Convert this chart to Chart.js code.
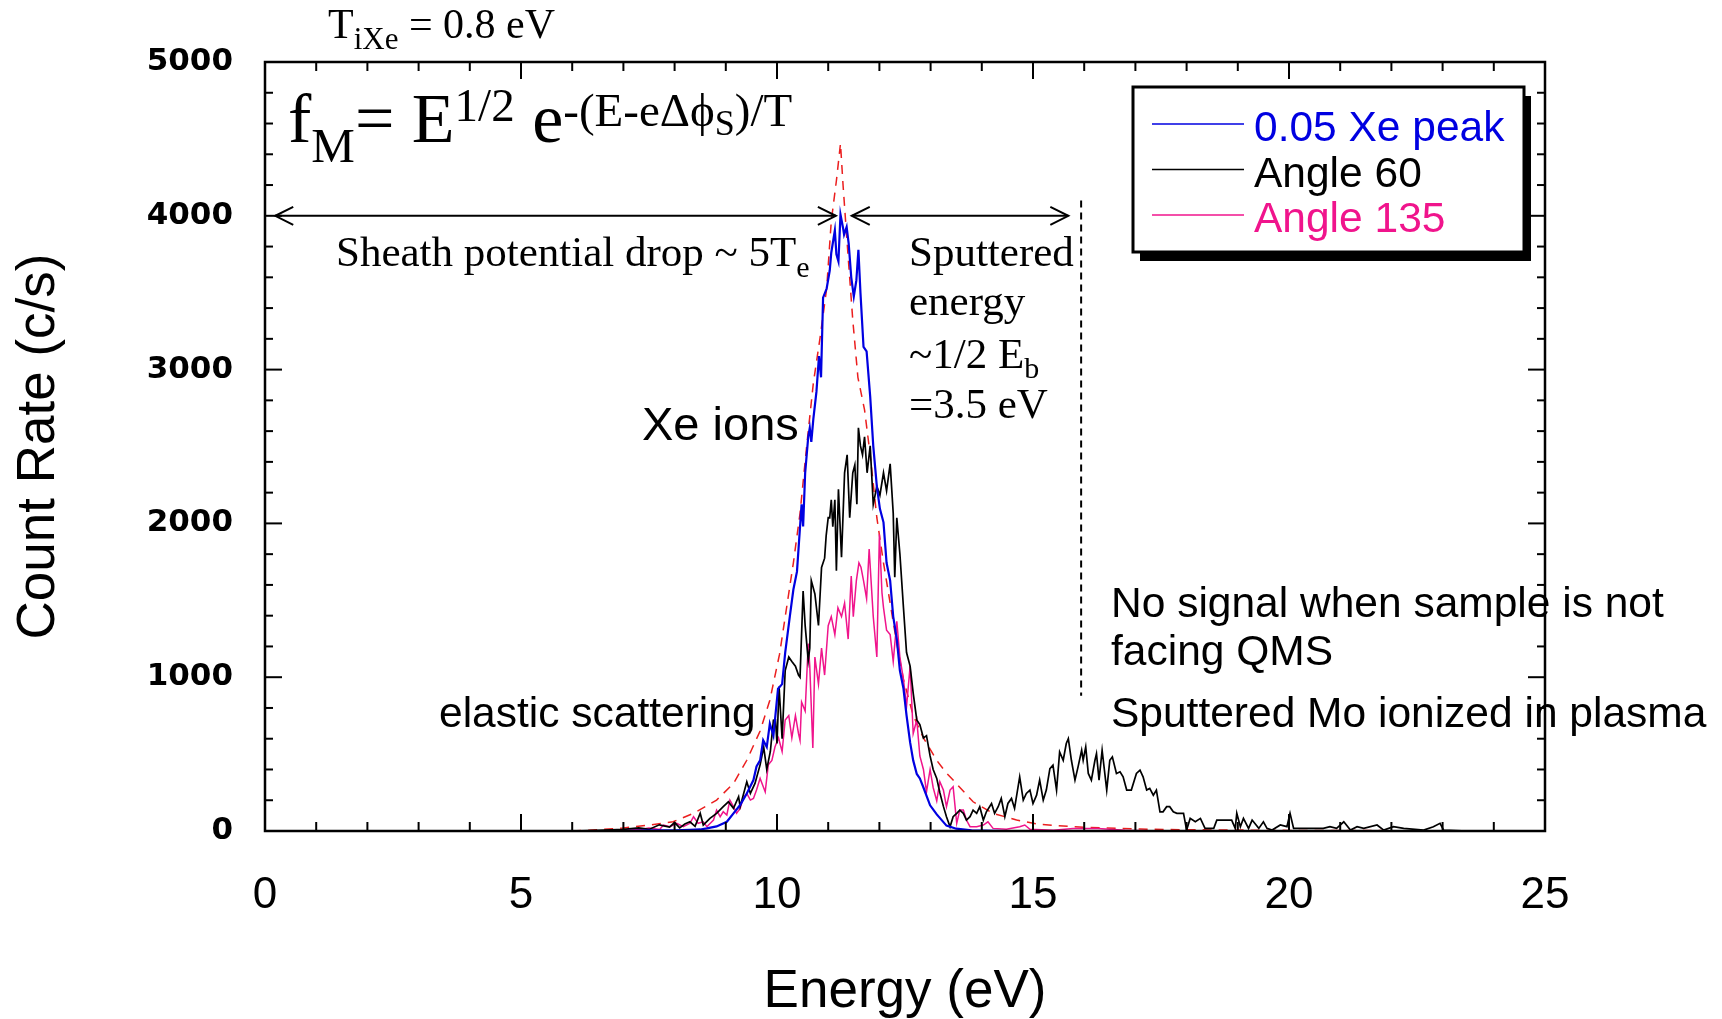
<!DOCTYPE html>
<html>
<head>
<meta charset="utf-8">
<script src="https://cdn.jsdelivr.net/npm/chart.js@4.4.0/dist/chart.umd.min.js"></script>
<style>
  html, body { margin: 0; padding: 0; background: #fff; }
  #wrap { width: 1722px; height: 1019px; }
</style>
</head>
<body>
<div id="wrap"><canvas id="chart" width="1722" height="1019"></canvas></div>
<script>
// energy (eV) / count rate (c/s)
const peakE = [5.0, 6.0, 7.0, 7.5, 8.0, 8.3, 8.5, 8.63, 8.82, 9.02, 9.15, 9.28, 9.41, 9.54, 9.6, 9.67, 9.73, 9.8, 9.86, 9.93,
  10.02, 10.1, 10.16, 10.25, 10.32, 10.39, 10.45, 10.48, 10.51, 10.55, 10.61, 10.64, 10.67, 10.71, 10.77, 10.82, 10.86, 10.9, 10.97,
  11.03, 11.06, 11.13, 11.16, 11.2, 11.24, 11.29, 11.31, 11.36, 11.4, 11.45, 11.5, 11.55, 11.59, 11.63, 11.69, 11.75, 11.82, 11.88, 11.95,
  12.01, 12.08, 12.14, 12.21, 12.27, 12.34, 12.4, 12.47, 12.53, 12.6, 12.66, 12.73, 12.79, 12.86, 12.99, 13.12, 13.31, 13.5, 13.8, 14.5, 25.0];
const peakCounts = [0, 0, 0, 5, 5, 8, 10, 17, 30, 60, 115, 169, 244, 331, 420, 459, 590, 546, 698, 620,
  925, 955, 1160, 1394, 1570, 1686, 1978, 2124, 1980, 2329, 2563, 2621, 2530, 2680, 2855, 3088, 2950, 3468, 3527,
  3644, 3760, 3905, 3750, 3703, 4008, 3921, 3878, 3927, 3819, 3600, 3476, 3580, 3779, 3500, 3147, 3118, 2826, 2504, 2241,
  2095, 2007, 1744, 1628, 1394, 1248, 1043, 926, 751, 576, 459, 371, 342, 283, 167, 108, 35, 15, 5, 0, 0];

const angle60E = [5.0, 6.0, 6.5, 7.0, 7.3, 7.5, 7.7, 7.9, 8.0, 8.1, 8.2, 8.3, 8.4, 8.5, 8.56, 8.69, 8.82, 8.95, 9.05, 9.15,
  9.25, 9.28, 9.41, 9.48, 9.57, 9.67, 9.74, 9.8, 9.87, 9.93, 9.97, 10.0, 10.04, 10.1, 10.16, 10.23, 10.29, 10.36, 10.42, 10.45,
  10.51, 10.55, 10.61, 10.64, 10.67, 10.74, 10.81, 10.87, 10.93, 10.96, 11.0, 11.03, 11.06, 11.09, 11.13, 11.16, 11.2, 11.26, 11.32, 11.37,
  11.42, 11.48, 11.52, 11.56, 11.59, 11.63, 11.67, 11.71, 11.76, 11.82, 11.88, 11.95, 12.01, 12.08, 12.14, 12.21, 12.27, 12.3, 12.34, 12.4,
  12.47, 12.53, 12.6, 12.66, 12.73, 12.79, 12.86, 12.92, 12.99, 13.05, 13.12, 13.18, 13.25, 13.31, 13.38, 13.44, 13.51, 13.57, 13.64, 13.7,
  13.77, 13.83, 13.9, 13.96, 14.03, 14.09, 14.19, 14.25, 14.32, 14.38, 14.45, 14.51, 14.58, 14.64, 14.74, 14.81, 14.87, 14.94, 15.0, 15.07,
  15.13, 15.2, 15.26, 15.33, 15.39, 15.46, 15.52, 15.59, 15.65, 15.69, 15.75, 15.82, 15.88, 15.95, 15.98, 16.03, 16.08, 16.14, 16.21, 16.24,
  16.29, 16.35, 16.44, 16.5, 16.55, 16.63, 16.7, 16.76, 16.83, 16.92, 17.02, 17.09, 17.15, 17.22, 17.28, 17.35, 17.41, 17.48, 17.54, 17.61,
  17.67, 17.74, 17.81, 17.94, 18.0, 18.07, 18.17, 18.27, 18.36, 18.53, 18.59, 18.72, 18.88, 18.95, 18.98, 19.05, 19.11, 19.21, 19.28, 19.41,
  19.5, 19.57, 19.67, 19.83, 19.96, 20.02, 20.09, 20.28, 20.48, 20.67, 20.8, 20.93, 21.07, 21.2, 21.33, 21.46, 21.72, 21.85, 22.04, 22.24,
  22.63, 22.82, 22.95, 23.02, 23.5, 25.0];
const angle60Counts = [0, 0, 5, 10, 20, 10, 40, 25, 55, 20, 45, 60, 30, 115, 39, 82, 115, 158, 190, 147,
  223, 158, 320, 244, 309, 430, 546, 400, 517, 720, 722, 569, 940, 600, 1043, 1131, 1102, 1072, 1014, 1000,
  1560, 1335, 1109, 1189, 1628, 1541, 1336, 1714, 1774, 1920, 2038, 2037, 2154, 1978, 2154, 1693, 2222, 1780, 2329, 2446,
  2037, 2329, 2380, 2124, 2621, 2504, 2446, 2563, 2329, 2504, 2124, 2241, 2183, 2329, 2212, 2387, 2066, 1650, 2037, 1803,
  1452, 1160, 1072, 897, 722, 692, 605, 620, 488, 400, 342, 250, 160, 93, 28, 93, 115, 136, 115, 71,
  93, 136, 115, 158, 71, 125, 179, 115, 158, 212, 93, 179, 212, 147, 352, 201, 244, 266, 179, 233,
  331, 201, 266, 406, 428, 266, 514, 460, 569, 601, 460, 331, 417, 525, 460, 547, 374, 331, 460, 503,
  331, 525, 266, 460, 482, 374, 385, 352, 266, 266, 374, 396, 352, 266, 277, 233, 266, 125, 125, 158,
  158, 125, 115, 115, 6, 82, 60, 82, 17, 17, 71, 71, 71, 17, 115, 28, 82, 17, 71, 17,
  60, 17, 6, 39, 28, 115, 17, 17, 17, 17, 28, 17, 60, 6, 28, 17, 39, 6, 28, 17,
  6, 28, 50, 6, 0, 0];

const angle135E = [5.0, 6.5, 7.0, 7.32, 7.5, 7.71, 7.78, 7.91, 8.04, 8.17, 8.3, 8.37, 8.46, 8.56, 8.63, 8.76, 8.82, 8.89, 8.95, 9.02,
  9.08, 9.15, 9.21, 9.28, 9.34, 9.41, 9.48, 9.54, 9.6, 9.67, 9.77, 9.83, 9.9, 9.96, 10.03, 10.1, 10.16, 10.23, 10.29, 10.36,
  10.42, 10.45, 10.48, 10.55, 10.61, 10.64, 10.7, 10.74, 10.81, 10.87, 10.93, 11.0, 11.06, 11.13, 11.19, 11.26, 11.32, 11.39, 11.45, 11.49,
  11.55, 11.6, 11.64, 11.69, 11.75, 11.8, 11.88, 11.95, 12.0, 12.05, 12.08, 12.14, 12.21, 12.27, 12.34, 12.4, 12.47, 12.53, 12.6, 12.66,
  12.73, 12.79, 12.86, 12.92, 12.99, 13.05, 13.12, 13.18, 13.25, 13.31, 13.38, 13.44, 13.51, 13.57, 13.64, 13.7, 13.77, 13.9, 14.03, 14.12,
  14.22, 14.48, 14.74, 14.84, 14.94, 15.4, 15.78, 16.27, 16.8, 17.5, 25.0];
const angle135Counts = [0, 0, 5, 10, 20, 10, 39, 28, 50, 28, 50, 93, 50, 60, 28, 71, 136, 93, 125, 104,
  201, 158, 115, 147, 212, 244, 201, 212, 266, 342, 254, 430, 459, 546, 605, 517, 722, 751, 605, 751,
  634, 590, 839, 780, 1218, 1072, 540, 1131, 955, 1189, 1014, 1335, 1394, 1277, 1452, 1394, 1481, 1248, 1657, 1394,
  1628, 1744, 1715, 1628, 1511, 1833, 1394, 1131, 1930, 1550, 1452, 1306, 1277, 1102, 1364, 1131, 985, 809, 1072, 634,
  722, 488, 400, 254, 400, 283, 196, 320, 266, 158, 266, 288, 50, 136, 136, 71, 28, 28, 39, 60,
  17, 11, 28, 39, 11, 5, 17, 17, 5, 0, 0];

// Maxwellian fit (red dashed)
const fitE = [6.0, 6.5, 7.0, 7.52, 7.97, 8.37, 8.82, 9.15, 9.41, 9.67, 9.86, 10.05, 10.32, 10.45, 10.58, 10.71, 10.84, 10.97, 11.06, 11.16,
  11.24, 11.29, 11.39, 11.48, 11.58, 11.71, 11.82, 11.95, 12.08, 12.21, 12.34, 12.47, 12.66, 12.86, 13.12, 13.3, 13.44, 13.83, 14.22, 14.68,
  15.13, 15.78, 16.44, 17.09, 18.0, 20.0, 25.0];
const fitCounts = [0, 8, 20, 39, 60, 115, 201, 309, 460, 650, 850, 1150, 1744, 2066, 2504, 2913, 3205, 3527, 3965, 4228,
  4470, 4200, 3731, 3322, 2950, 2738, 2446, 2037, 1744, 1481, 1218, 985, 751, 605, 459, 380, 331, 190, 115, 71,
  43, 28, 19, 13, 8, 4, 0];

const xTickLabels = [0, 5, 10, 15, 20, 25];
const yTickLabels = [0, 1000, 2000, 3000, 4000, 5000];

const BLUE = 'rgb(0,0,225)';
const PINK = 'rgb(240,20,140)';
const RED = 'rgb(235,30,30)';
const SANS = '"Liberation Sans", Arial, sans-serif';
const SERIF = '"Liberation Serif", "Times New Roman", serif';

const toXY = (xs, ys) => xs.map((x, i) => ({ x: x, y: ys[i] }));

function runs(ctx, x, parts) {
  parts.forEach(p => {
    ctx.font = p.size + 'px ' + (p.family || SERIF);
    ctx.fillStyle = p.color || '#000';
    ctx.fillText(p.t, x, p.y);
    x += ctx.measureText(p.t).width;
  });
}

function line(ctx, x1, y1, x2, y2) {
  ctx.beginPath();
  ctx.moveTo(x1, y1);
  ctx.lineTo(x2, y2);
  ctx.stroke();
}

function arrowHead(ctx, x, y, dir) {
  ctx.beginPath();
  ctx.moveTo(x - dir * 18, y - 9);
  ctx.lineTo(x, y);
  ctx.lineTo(x - dir * 18, y + 9);
  ctx.stroke();
}

const decorations = {
  id: 'decorations',
  afterDatasetsDraw(chart) {
    const { ctx, chartArea: a, scales: { x, y } } = chart;
    ctx.save();
    ctx.strokeStyle = '#000';
    ctx.lineWidth = 2.5;
    ctx.strokeRect(a.left, a.top, a.right - a.left, a.bottom - a.top);

    // inward ticks on all four sides
    ctx.lineWidth = 2;
    x.ticks.forEach(t => {
      const px = x.getPixelForValue(t.value);
      const len = xTickLabels.includes(t.value) ? 17 : 9;
      line(ctx, px, a.bottom, px, a.bottom - len);
      line(ctx, px, a.top, px, a.top + len);
    });
    y.ticks.forEach(t => {
      const py = y.getPixelForValue(t.value);
      const len = yTickLabels.includes(t.value) ? 17 : 8;
      line(ctx, a.left, py, a.left + len, py);
      line(ctx, a.right, py, a.right - len, py);
    });

    // double arrows at 4000 c/s
    const ya = y.getPixelForValue(4000);
    ctx.lineWidth = 2;
    const a1 = x.getPixelForValue(0.2), a2 = x.getPixelForValue(11.15);
    const b1 = x.getPixelForValue(11.46), b2 = x.getPixelForValue(15.69);
    line(ctx, a1, ya, a2, ya);
    arrowHead(ctx, a1, ya, -1);
    arrowHead(ctx, a2, ya, 1);
    line(ctx, b1, ya, b2, ya);
    arrowHead(ctx, b1, ya, -1);
    arrowHead(ctx, b2, ya, 1);

    // dashed divider
    ctx.setLineDash([7, 5]);
    const xd = x.getPixelForValue(15.94);
    line(ctx, xd, y.getPixelForValue(4100), xd, y.getPixelForValue(880));
    ctx.setLineDash([]);

    ctx.textBaseline = 'alphabetic';
    ctx.textAlign = 'left';
    // header
    runs(ctx, 328, [
      { t: 'T', size: 42, y: 38 },
      { t: 'iXe', size: 31, y: 49 },
      { t: ' = 0.8 eV', size: 42, y: 38 }
    ]);
    // formula
    runs(ctx, 288, [
      { t: 'f', size: 70, y: 142 },
      { t: 'M', size: 49, y: 162 },
      { t: '= E', size: 70, y: 142 },
      { t: '1/2', size: 47, y: 121 },
      { t: ' e', size: 70, y: 142 },
      { t: '-(E-eΔϕ', size: 47, y: 126 },
      { t: 'S', size: 36, y: 135 },
      { t: ')/T', size: 47, y: 126 }
    ]);
    runs(ctx, 336, [
      { t: 'Sheath potential drop ~ 5T', size: 43, y: 266 },
      { t: 'e', size: 30, y: 277 }
    ]);
    runs(ctx, 909, [{ t: 'Sputtered', size: 43, y: 266 }]);
    runs(ctx, 909, [{ t: 'energy', size: 43, y: 315 }]);
    runs(ctx, 909, [
      { t: '~1/2 E', size: 43, y: 368 },
      { t: 'b', size: 30, y: 378 }
    ]);
    runs(ctx, 909, [{ t: '=3.5 eV', size: 43, y: 418 }]);

    ctx.fillStyle = '#000';
    ctx.font = '47px ' + SANS;
    ctx.fillText('Xe ions', 642, 440);
    ctx.font = '42.5px ' + SANS;
    ctx.fillText('elastic scattering', 439, 727);
    ctx.fillText('No signal when sample is not', 1111, 617);
    ctx.fillText('facing QMS', 1111, 665);
    ctx.fillText('Sputtered Mo ionized in plasma', 1111, 727);

    // legend box with drop shadow
    const lx = 1133, ly = 87, lw = 391, lh = 165;
    ctx.fillStyle = '#000';
    ctx.fillRect(lx + 7, ly + 9, lw, lh);
    ctx.fillStyle = '#fff';
    ctx.fillRect(lx, ly, lw, lh);
    ctx.lineWidth = 3;
    ctx.strokeRect(lx, ly, lw, lh);
    const items = chart.data.datasets.filter(d => d.inLegend);
    ctx.font = '42.5px ' + SANS;
    items.forEach((d, i) => {
      const yy = 124 + i * 45.5;
      ctx.strokeStyle = d.borderColor;
      ctx.lineWidth = 1.3;
      line(ctx, 1152, yy, 1244, yy);
      ctx.fillStyle = d.borderColor;
      ctx.fillText(d.label, 1254, yy + 17);
    });
    ctx.restore();
  }
};

new Chart(document.getElementById('chart'), {
  type: 'line',
  data: {
    datasets: [
      { label: '0.05 Xe peak', inLegend: true, data: toXY(peakE, peakCounts), borderColor: BLUE, borderWidth: 2.2 },
      { label: 'Angle 60', inLegend: true, data: toXY(angle60E, angle60Counts), borderColor: '#000', borderWidth: 1.7 },
      { label: 'Angle 135', inLegend: true, data: toXY(angle135E, angle135Counts), borderColor: PINK, borderWidth: 1.5 },
      { label: 'Maxwellian fit', inLegend: false, data: toXY(fitE, fitCounts), borderColor: RED, borderWidth: 1.5, borderDash: [9, 7] }
    ]
  },
  options: {
    responsive: false,
    animation: false,
    devicePixelRatio: 1,
    layout: { padding: { top: 62, right: 177, bottom: 0, left: 0 } },
    elements: { point: { radius: 0 }, line: { tension: 0, fill: false } },
    plugins: { legend: { display: false }, tooltip: { enabled: false } },
    scales: {
      x: {
        type: 'linear', min: 0, max: 25,
        afterFit: s => { s.height = 188; },
        grid: { display: false, drawTicks: false },
        border: { display: false },
        ticks: {
          stepSize: 1, autoSkip: false, maxRotation: 0, padding: 38, color: '#000',
          font: { family: SANS, size: 44 },
          callback: v => xTickLabels.includes(v) ? String(v) : ''
        },
        title: {
          display: true, text: 'Energy (eV)', color: '#000',
          font: { family: SANS, size: 53 }, padding: { top: 0, bottom: -5 }
        }
      },
      y: {
        type: 'linear', min: 0, max: 5000,
        afterFit: s => { s.width = 265; },
        grid: { display: false, drawTicks: false },
        border: { display: false },
        ticks: {
          stepSize: 200, autoSkip: false, padding: 32, color: '#000',
          font: { family: '"DejaVu Sans", sans-serif', size: 31, weight: 'bold' },
          callback: v => yTickLabels.includes(v) ? String(v) : ''
        },
        title: {
          display: true, text: 'Count Rate (c/s)', color: '#000',
          font: { family: SANS, size: 53 }, padding: { top: 8, bottom: 0 }
        }
      }
    }
  },
  plugins: [decorations]
});
</script>
</body>
</html>
